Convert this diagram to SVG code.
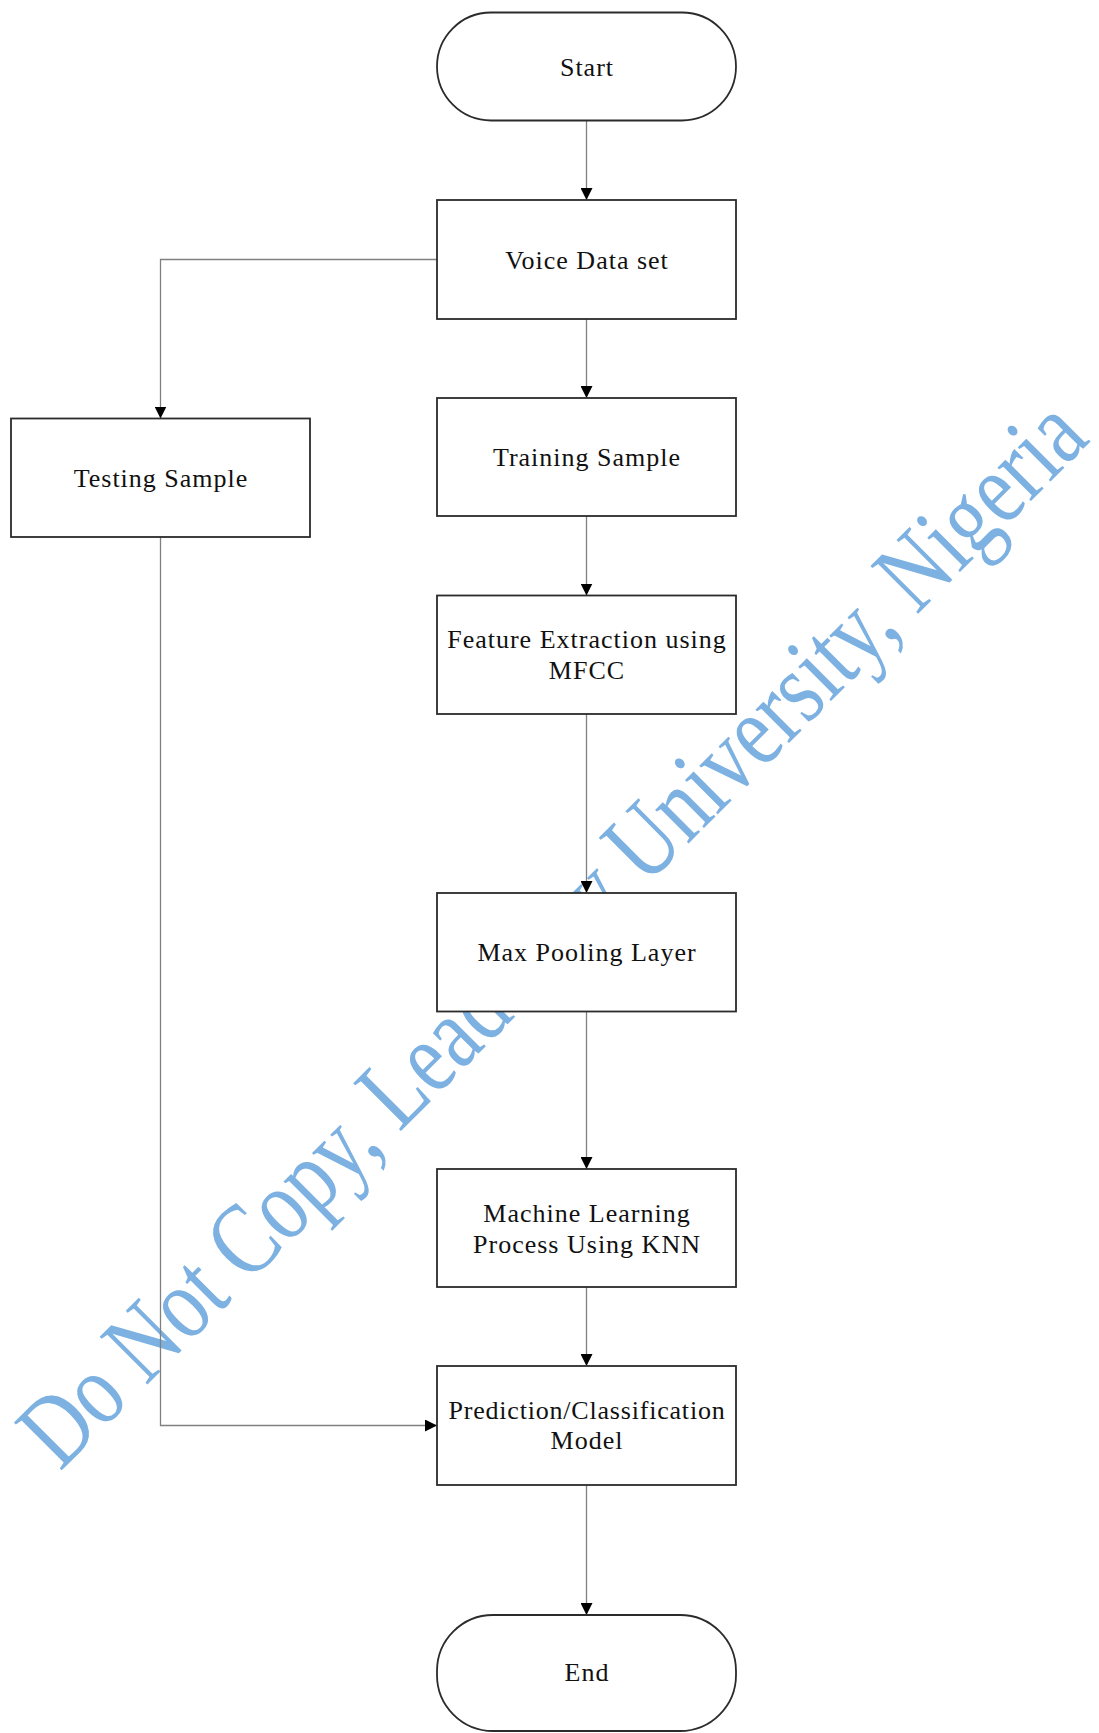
<svg xmlns="http://www.w3.org/2000/svg" width="1099" height="1733" viewBox="0 0 1099 1733">
  <style>
    .box { fill: #ffffff; stroke: #2b2b2b; stroke-width: 1.8; }
    .lbl { font-family: "Liberation Serif", "Times New Roman", serif; font-size: 26px; letter-spacing: 1px; fill: #111111; text-anchor: middle; }
    .wire { fill: none; stroke: #808080; stroke-width: 1.3; }
    .mark { font-family: "Liberation Serif", "Times New Roman", serif; font-size: 103px; fill: #7db1e1; }
  </style>
  <defs>
    <marker id="arrow" viewBox="0 0 12 12" refX="12" refY="6" markerWidth="12" markerHeight="12" markerUnits="userSpaceOnUse" orient="auto">
      <path d="M0,0 L12,6 L0,12 Z" fill="#000000"/>
    </marker>
  </defs>

  <rect x="0" y="0" width="1099" height="1733" fill="#ffffff"/>

  <!-- diagonal watermark, condensed horizontally, sits under the flow -->
  <text class="mark" transform="translate(60 1472) rotate(-45) scale(0.8 1)" x="0" y="0">Do Not Copy, Lead City University, Nigeria</text>

  <!-- connectors -->
  <g id="connectors">
    <path class="wire" d="M586.5,120.7 L586.5,200" marker-end="url(#arrow)"/>
    <path class="wire" d="M586.5,319 L586.5,398" marker-end="url(#arrow)"/>
    <path class="wire" d="M437,259.5 L160.5,259.5 L160.5,418.5" marker-end="url(#arrow)"/>
    <path class="wire" d="M586.5,516 L586.5,595.5" marker-end="url(#arrow)"/>
    <path class="wire" d="M586.5,714 L586.5,893" marker-end="url(#arrow)"/>
    <path class="wire" d="M586.5,1011.5 L586.5,1169" marker-end="url(#arrow)"/>
    <path class="wire" d="M586.5,1287 L586.5,1366" marker-end="url(#arrow)"/>
    <path class="wire" d="M160.5,537 L160.5,1425.5 L437,1425.5" marker-end="url(#arrow)"/>
    <path class="wire" d="M586.5,1485 L586.5,1615" marker-end="url(#arrow)"/>
  </g>

  <g id="start">
    <rect class="box" x="437" y="12.5" width="299" height="108" rx="54" ry="54"/>
    <text class="lbl" x="587" y="76">Start</text>
  </g>

  <g id="voice-data-set">
    <rect class="box" x="437" y="200" width="299" height="119"/>
    <text class="lbl" x="587" y="268.5">Voice Data set</text>
  </g>

  <g id="training-sample">
    <rect class="box" x="437" y="398" width="299" height="118"/>
    <text class="lbl" x="587" y="466">Training Sample</text>
  </g>

  <g id="testing-sample">
    <rect class="box" x="11" y="418.5" width="299" height="118.5"/>
    <text class="lbl" x="161" y="486.5">Testing Sample</text>
  </g>

  <g id="feature-extraction">
    <rect class="box" x="437" y="595.5" width="299" height="118.5"/>
    <text class="lbl" x="587" y="648">Feature Extraction using</text>
    <text class="lbl" x="587" y="679">MFCC</text>
  </g>

  <g id="max-pooling">
    <rect class="box" x="437" y="893" width="299" height="118.5"/>
    <text class="lbl" x="587" y="961">Max Pooling Layer</text>
  </g>

  <g id="knn-learning">
    <rect class="box" x="437" y="1169" width="299" height="118"/>
    <text class="lbl" x="587" y="1221.5">Machine Learning</text>
    <text class="lbl" x="587" y="1252.5">Process Using KNN</text>
  </g>

  <g id="prediction">
    <rect class="box" x="437" y="1366" width="299" height="119"/>
    <text class="lbl" x="587" y="1418.5" style="letter-spacing:0.8px">Prediction/Classification</text>
    <text class="lbl" x="587" y="1449">Model</text>
  </g>

  <g id="end">
    <rect class="box" x="437" y="1615" width="299" height="116" rx="56" ry="56"/>
    <text class="lbl" x="587" y="1681">End</text>
  </g>
</svg>
